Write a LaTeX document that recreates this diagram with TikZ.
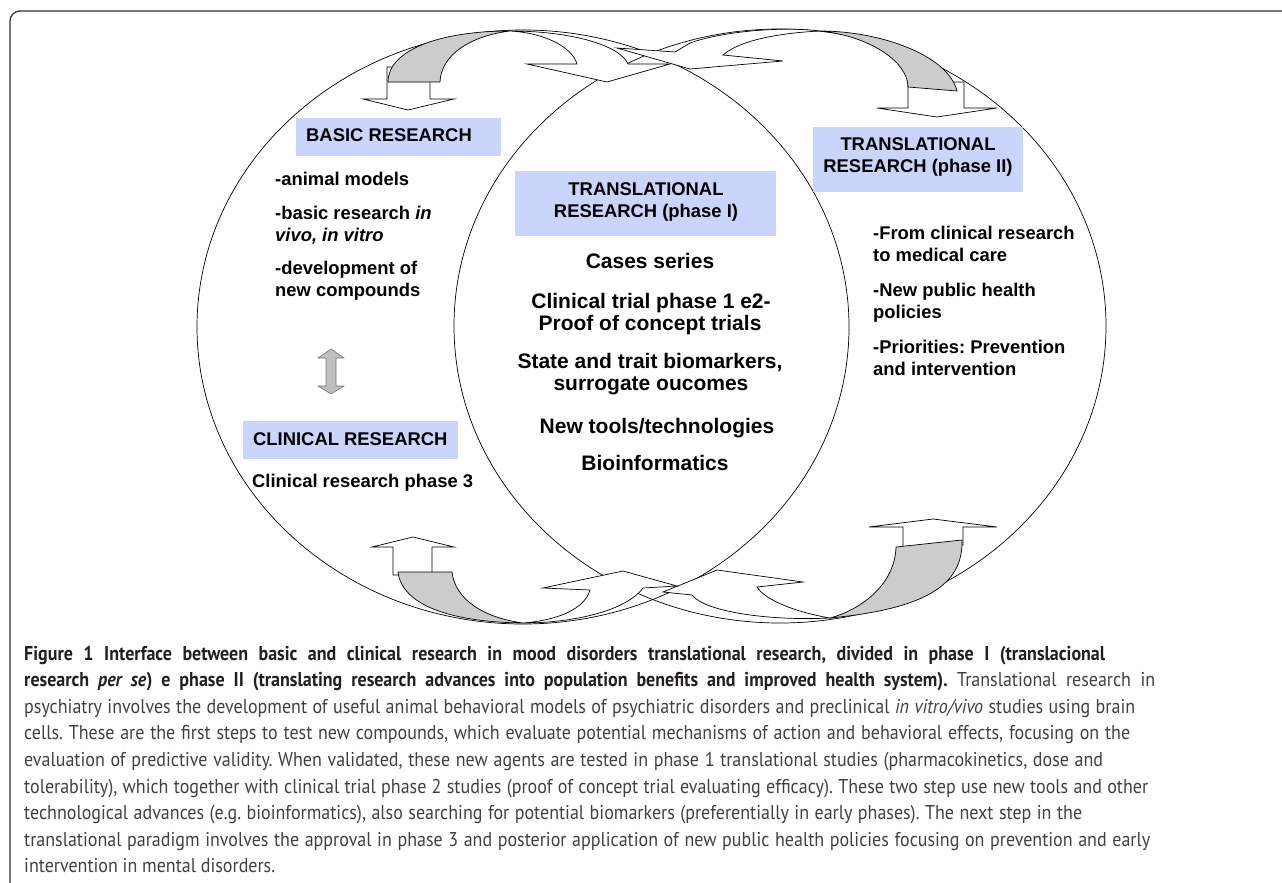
\documentclass[tikz,border=0pt]{standalone}
\usepackage{fontspec}
\setmainfont{Liberation Sans}
\newfontfamily\capfont[FakeStretch=0.9]{PT Sans}
\definecolor{boxblue}{RGB}{201,213,251}
\definecolor{arrgray}{RGB}{204,204,204}
\definecolor{capdark}{RGB}{35,31,32}
\definecolor{captext}{RGB}{64,64,66}
\definecolor{framecol}{RGB}{50,50,50}
\begin{document}
\frenchspacing
\begin{tikzpicture}[x=1pt,y=-1pt,
  lbl/.style={font=\fontsize{18.4}{22}\selectfont\bfseries, inner sep=0pt, anchor=base west},
  ttl/.style={font=\fontsize{18.4}{22}\selectfont\bfseries, inner sep=0pt, anchor=base},
  big/.style={font=\fontsize{21}{25}\selectfont\bfseries, inner sep=0pt, anchor=base},
  ell/.style={draw=black, line width=0.7pt},
  arrw/.style={draw=black, line width=0.7pt, fill=white, line join=miter},
  arrg/.style={draw=black, line width=0.7pt, fill=arrgray},
  captxt/.style={font=\capfont\fontsize{20}{26}\selectfont, inner sep=0pt, anchor=base west, text=captext}
]
\useasboundingbox (0,0) rectangle (1282,883);
% frame
\draw[framecol, line width=1.3pt, rounded corners=10pt] (10,890) -- (10,11) -- (1290,11);
% ellipses
\draw[ell] (523,327) ellipse [x radius=326pt, y radius=297pt];
\draw[ell] (780,326) ellipse [x radius=326pt, y radius=297pt];
% boxes
\fill[boxblue] (296,118) rectangle (501,156);
\fill[boxblue] (515,171) rectangle (776,236);
\fill[boxblue] (813,127) rectangle (1023,192);
\fill[boxblue] (243,421) rectangle (458,459);
% left texts
\node[lbl] (basic) at (306,141) {BASIC RESEARCH};
\node[lbl] (l1) at (275,185) {-animal models};
\node[lbl] (l2) at (275,219) {-basic research \textit{in}};
\node[lbl] (l3) at (275,241) {\textit{vivo, in vitro}};
\node[lbl] (l4) at (275,274) {-development of};
\node[lbl] (l5) at (275,296) {new compounds};
\node[lbl] (clin) at (253,445) {CLINICAL RESEARCH};
\node[lbl] (clin3) at (252,487) {Clinical research phase 3};
% center texts
\node[ttl] (t1a) at (646,195) {TRANSLATIONAL};
\node[ttl] (t1b) at (646,217) {RESEARCH (phase I)};
\node[big] (c1) at (650,268) {Cases series};
\node[big] (c2) at (651,308) {Clinical trial phase 1 e2-};
\node[big] (c3) at (650,330) {Proof of concept trials};
\node[big] (c4) at (650,368) {State and trait biomarkers,};
\node[big] (c5) at (651,390) {surrogate oucomes};
\node[big] (c6) at (657,433) {New tools/technologies};
\node[big] (c7) at (655,470) {Bioinformatics};
% right texts
\node[ttl] (t2a) at (918,150) {TRANSLATIONAL};
\node[ttl] (t2b) at (918,172) {RESEARCH (phase II)};
\node[lbl] (r1) at (873,239) {-From clinical research};
\node[lbl] (r2) at (873,261) {to medical care};
\node[lbl] (r3) at (873,296) {-New public health};
\node[lbl] (r4) at (873,318) {policies};
\node[lbl] (r5) at (873,353) {-Priorities: Prevention};
\node[lbl] (r6) at (873,375) {and intervention};
% double arrow
\draw[draw=black!55, fill=black!25, line width=0.6pt] (331,349) -- (344,358) -- (336,358) -- (336,386) -- (344,386) -- (331,394) -- (318,386) -- (326,386) -- (326,358) -- (318,358) -- cycle;
% top-left curved arrow
\draw[arrw] (387,67) -- (387,99) -- (363,99) -- (408,110) -- (454,99) -- (430,99) -- (430,67) -- cycle;
\draw[arrg] (388,82) .. controls (388,50) and (440,31) .. (510,31) .. controls (470,36) and (441,55) .. (440,82) -- cycle;
\draw[arrw] (510,31) .. controls (545,33) and (572,47) .. (577,64) -- (527,64) -- (607,82) -- (670,64) -- (628,64) .. controls (620,45) and (570,31) .. (510,31) -- cycle;
% top-right curved arrow
\draw[arrw] (908,82) -- (908,108) -- (877,108) -- (937,117) -- (997,108) -- (964,108) -- (964,82) -- cycle;
\draw[arrg] (957,91) .. controls (948,55) and (880,31) .. (820,31) .. controls (870,36) and (908,62) .. (908,87) -- cycle;
\draw[arrw] (820,31) .. controls (780,26) and (720,32) .. (690,43) -- (675,52) -- (617,48) -- (690,69) -- (783,61) -- (723,55) .. controls (740,40) and (780,33) .. (820,31) -- cycle;
% bottom-right curved arrow
\draw[arrw] (903,550) -- (903,527) -- (869,527) -- (933,519) -- (997,527) -- (963,527) -- (963,545) -- cycle;
\draw[arrg] (896,547) .. controls (895,585) and (860,610) .. (830,618) .. controls (935,608) and (963,580) .. (962,540) -- cycle;
\draw[arrw] (830,618) .. controls (795,612) and (765,600) .. (757,587) -- (803,582) -- (717,570) -- (663,592) -- (692,595) .. controls (705,612) and (770,621) .. (830,618) -- cycle;
% bottom-left curved arrow
\draw[arrw] (393,575) -- (393,547) -- (372,547) -- (413,537) -- (454,547) -- (432,547) -- (432,575) -- cycle;
\draw[arrg] (398,572) .. controls (402,605) and (450,622) .. (523,623) .. controls (485,618) and (455,600) .. (452,572) -- cycle;
\draw[arrw] (523,623) .. controls (560,620) and (585,608) .. (590,590) -- (543,588) -- (623,571) -- (677,586) -- (643,588) .. controls (625,612) and (570,623) .. (523,623) -- cycle;
% caption
\node[captxt] (cap1) at (24,660) {\makebox[1081pt][s]{\color{capdark}\bfseries Figure 1 Interface between basic and clinical research in mood disorders translational research, divided in phase I (translacional}};
\node[captxt] (cap2) at (24,686) {\makebox[1131pt][s]{{\color{capdark}\bfseries research \textit{per se}) e phase II (translating research advances into population benefits and improved health system).} Translational research in}};
\node[captxt] (cap3) at (24,713) {\makebox[1111pt][s]{psychiatry involves the development of useful animal behavioral models of psychiatric disorders and preclinical \textit{in vitro/vivo} studies using brain}};
\node[captxt] (cap4) at (24,739) {\makebox[1106pt][s]{cells. These are the first steps to test new compounds, which evaluate potential mechanisms of action and behavioral effects, focusing on the}};
\node[captxt] (cap5) at (24,766) {\makebox[1079pt][s]{evaluation of predictive validity. When validated, these new agents are tested in phase 1 translational studies (pharmacokinetics, dose and}};
\node[captxt] (cap6) at (24,793) {\makebox[1124pt][s]{tolerability), which together with clinical trial phase 2 studies (proof of concept trial evaluating efficacy). These two step use new tools and other}};
\node[captxt] (cap7) at (24,819) {\makebox[1058pt][s]{technological advances (e.g. bioinformatics), also searching for potential biomarkers (preferentially in early phases). The next step in the}};
\node[captxt] (cap8) at (24,846) {\makebox[1126pt][s]{translational paradigm involves the approval in phase 3 and posterior application of new public health policies focusing on prevention and early}};
\node[captxt] (cap9) at (24,872) {intervention in mental disorders.};
\end{tikzpicture}
\end{document}
